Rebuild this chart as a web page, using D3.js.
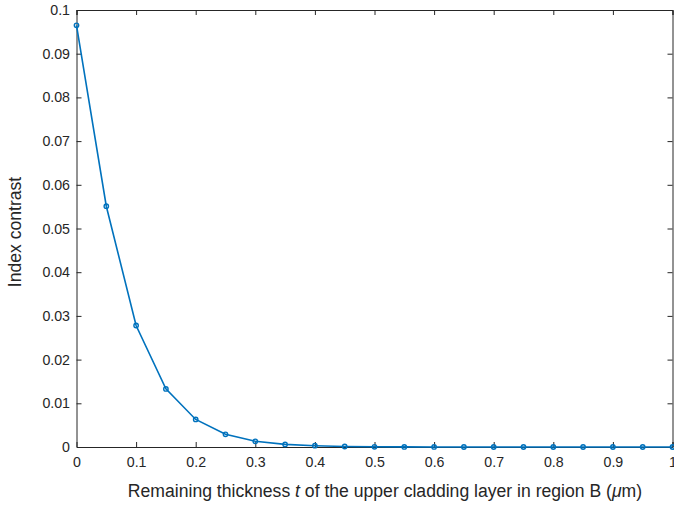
<html>
<head>
<meta charset='utf-8' />
<script src="https://d3js.org/d3.v7.min.js"></script>
<style>
body { margin: 0; background: #fff; }
text { font-family: "Liberation Sans", Arial, sans-serif; fill: #262626; }
</style>
</head>
<body>
<script>
var thickness = [0, 0.05, 0.1, 0.15, 0.2, 0.25, 0.3, 0.35, 0.4, 0.45, 0.5,
                 0.55, 0.6, 0.65, 0.7, 0.75, 0.8, 0.85, 0.9, 0.95, 1.0];
var contrast = [0.0965, 0.0551, 0.0278, 0.0133, 0.0063, 0.0029, 0.0013, 0.0006, 0.0003, 0.00012, 0.00005,
                0.00002, 0.00001, 0, 0, 0, 0, 0, 0, 0, 0];
var xTicks = [0, 0.1, 0.2, 0.3, 0.4, 0.5, 0.6, 0.7, 0.8, 0.9, 1];
var yTicks = [0, 0.01, 0.02, 0.03, 0.04, 0.05, 0.06, 0.07, 0.08, 0.09, 0.1];

var margin = {top: 10, right: 1.5, bottom: 58, left: 76.5};
var W = 674, H = 505;
var width = W - margin.left - margin.right,
    height = H - margin.top - margin.bottom;

var base = d3.select("body").append("svg")
  .attr("width", W).attr("height", H);
var svg = base.append("g").attr("transform", "translate(" + margin.left + "," + margin.top + ")");

var xScale = d3.scaleLinear().domain([0, 1]).range([0, width]);
var yScale = d3.scaleLinear().domain([0, 0.1]).range([height, 0]);

var axisColor = "#262626";
var fmt = function(d) { return d === 0 ? "0" : String(+d.toFixed(2)); };

// bottom and left axes with inward ticks
var xAx = svg.append("g").attr("transform", "translate(0," + height + ")")
  .call(d3.axisBottom(xScale).tickValues(xTicks).tickSize(-5).tickPadding(10).tickFormat(fmt));
var yAx = svg.append("g")
  .call(d3.axisLeft(yScale).tickValues(yTicks).tickSize(-5).tickPadding(6.5).tickFormat(fmt));
// top and right (box)
var xTop = svg.append("g")
  .call(d3.axisTop(xScale).tickValues(xTicks).tickSize(-5).tickFormat(""));
var yRight = svg.append("g").attr("transform", "translate(" + width + ",0)")
  .call(d3.axisRight(yScale).tickValues(yTicks).tickSize(-5).tickFormat(""));

[xAx, yAx, xTop, yRight].forEach(function(g) {
  g.selectAll("path.domain").attr("stroke", axisColor).attr("stroke-width", 1);
  g.selectAll(".tick line").attr("stroke", axisColor).attr("stroke-width", 1);
  g.selectAll(".tick text").attr("fill", axisColor).style("font-size", "14.2px")
    .style("font-family", "'Liberation Sans', Arial, sans-serif");
});
xAx.selectAll(".tick line").filter(function(d) { return d === 0; }).remove();
yAx.selectAll(".tick line").filter(function(d) { return d === 0; }).remove();

var data = thickness.map(function(t, i) { return {t: t, v: contrast[i]}; });

var line = d3.line()
  .x(function(d) { return xScale(d.t); })
  .y(function(d) { return yScale(d.v); });

svg.append("path")
  .datum(data)
  .attr("fill", "none")
  .attr("stroke", "#0072BD")
  .attr("stroke-width", 1.6)
  .attr("d", line);

svg.selectAll("circle.pt")
  .data(data)
  .enter().append("circle")
  .attr("class", "pt")
  .attr("cx", function(d) { return xScale(d.t); })
  .attr("cy", function(d) { return yScale(d.v); })
  .attr("r", 2.2)
  .attr("fill", "none")
  .attr("stroke", "#0072BD")
  .attr("stroke-width", 1.4);

// axis labels
var xl = base.append("text")
  .attr("x", 385).attr("y", 497)
  .attr("text-anchor", "middle")
  .style("font-size", "17.6px");
xl.append("tspan").text("Remaining thickness ");
xl.append("tspan").attr("font-style", "italic").text("t");
xl.append("tspan").text(" of the upper cladding layer in region B (");
xl.append("tspan").attr("font-style", "italic").text("\u03bc");
xl.append("tspan").text("m)");

base.append("text")
  .attr("transform", "translate(21,232) rotate(-90)")
  .attr("text-anchor", "middle")
  .style("font-size", "17.6px")
  .text("Index contrast");
</script>
</body>
</html>
